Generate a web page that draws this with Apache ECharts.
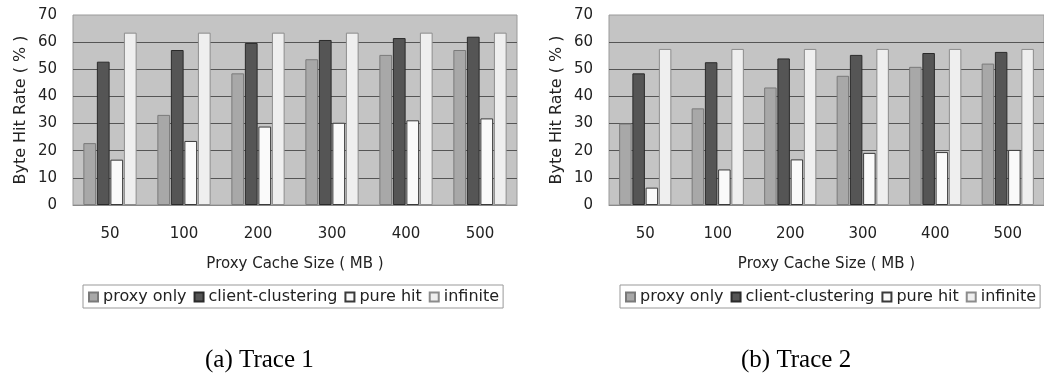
<!DOCTYPE html>
<html>
<head>
<meta charset="utf-8">
<script src="https://cdn.jsdelivr.net/npm/echarts@6/dist/echarts.min.js"></script>
<style>
html,body{margin:0;padding:0;background:#fff;}
#c{width:1044px;height:389px;}
</style>
</head>
<body>
<div id="c"></div>
<script>
const categories = ['50', '100', '200', '300', '400', '500'];
const seriesNames = ['proxy only', 'client-clustering', 'pure hit', 'infinite'];
const yTicks = [0, 10, 20, 30, 40, 50, 60, 70];

// Trace 1
const t1Proxy = [22.8, 33.2, 48.5, 53.7, 55.3, 57.1];
const t1Client = [52.8, 57.1, 59.7, 60.8, 61.5, 62.0];
const t1Pure = [16.7, 23.6, 28.9, 30.3, 31.2, 31.9];
const t1Infinite = [63.5, 63.5, 63.5, 63.5, 63.5, 63.5];

// Trace 2
const t2Proxy = [30.0, 35.6, 43.3, 47.6, 50.9, 52.1];
const t2Client = [48.5, 52.6, 54.0, 55.3, 56.0, 56.4];
const t2Pure = [6.4, 13.1, 16.8, 19.2, 19.5, 20.3];
const t2Infinite = [57.5, 57.5, 57.5, 57.5, 57.5, 57.5];

const captions = ['(a) Trace 1', '(b) Trace 2'];

const FONT = 'DejaVu Sans';
const styles = [
  {color: '#a8a8a8', borderColor: '#7a7a7a', borderWidth: 1},
  {color: '#555555', borderColor: '#2a2a2a', borderWidth: 1},
  {color: '#fafafa', borderColor: '#3a3a3a', borderWidth: 1},
  {color: '#efefef', borderColor: '#8c8c8c', borderWidth: 1}
];

const chart = echarts.init(document.getElementById('c'));
const gridLefts = [73, 609];
const data = [[t1Proxy, t1Client, t1Pure, t1Infinite], [t2Proxy, t2Client, t2Pure, t2Infinite]];

const grids = gridLefts.map(l => ({
  left: l, top: 15, width: 444, height: 190,
  show: true, backgroundColor: '#c4c4c4', borderColor: '#9a9a9a', borderWidth: 1
}));

const xAxes = [0, 1].map(i => ({
  type: 'category', gridIndex: i, data: categories,
  name: 'Proxy Cache Size ( MB )', nameLocation: 'middle', nameGap: 52,
  nameTextStyle: {fontFamily: FONT, fontSize: 15, color: '#222'},
  axisLine: {lineStyle: {color: '#8a8a8a', width: 1}},
  axisTick: {inside: true, length: 5, lineStyle: {color: '#666'}},
  axisLabel: {fontFamily: FONT, fontSize: 15, color: '#222', margin: 22}
}));

const yAxes = [0, 1].map(i => ({
  type: 'value', gridIndex: i, min: 0, max: 70, interval: 10,
  name: 'Byte Hit Rate ( % )', nameLocation: 'middle', nameGap: 44,
  nameTextStyle: {fontFamily: FONT, fontSize: 16, color: '#222'},
  axisLine: {show: false}, axisTick: {show: false},
  axisLabel: {fontFamily: FONT, fontSize: 15, color: '#222', margin: 16,
    formatter: v => yTicks.includes(v) ? String(v) : ''},
  splitLine: {show: true, lineStyle: {color: ['transparent', '#555', '#555', '#555', '#555', '#555', '#555', 'transparent'], width: 1}}
}));

const series = [];
[0, 1].forEach(g => {
  seriesNames.forEach((n, k) => {
    series.push({
      type: 'bar', name: n, xAxisIndex: g, yAxisIndex: g,
      data: data[g][k], barGap: '6%', barCategoryGap: '28%',
      itemStyle: styles[k], emphasis: {disabled: true}, animation: false
    });
  });
});

const legends = [{left: 83, top: 285}, {left: 620, top: 285}].map(p => ({
  left: p.left, top: p.top, data: seriesNames, icon: 'rect',
  itemWidth: 9, itemHeight: 9, itemGap: 7, padding: [4, 4, 3, 5],
  borderColor: '#999', borderWidth: 1, selectedMode: false,
  textStyle: {fontFamily: FONT, fontSize: 16, color: '#222', padding: [0, 0, 0, 0]}
}));

chart.setOption({
  animation: false,
  grid: grids, xAxis: xAxes, yAxis: yAxes, series: series, legend: legends,
  graphic: [
    {type: 'text', left: 205, top: 348, style: {text: captions[0], font: '25px "Liberation Serif"', fill: '#000'}},
    {type: 'text', left: 741, top: 348, style: {text: captions[1], font: '25px "Liberation Serif"', fill: '#000'}}
  ]
});
</script>
</body>
</html>
